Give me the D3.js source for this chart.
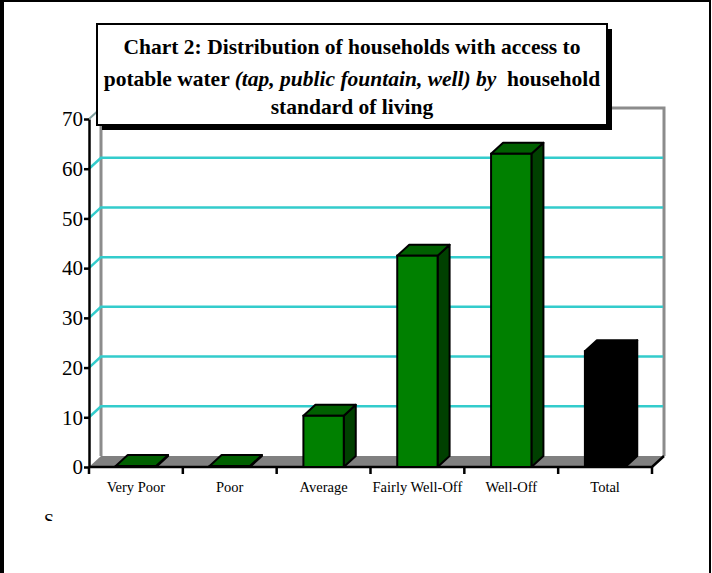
<!DOCTYPE html>
<html>
<head>
<meta charset="utf-8">
<script src="https://cdn.jsdelivr.net/npm/d3@7/dist/d3.min.js"></script>
<style>
  body { margin: 0; background: #fff; }
</style>
</head>
<body>
<div id="chart"></div>
<script>
// data
const categories = ["Very Poor", "Poor", "Average", "Fairly Well-Off", "Well-Off", "Total"];
const values = [0.2, 0.2, 10.3, 42.5, 63, 23.3];
const yTicks = [0, 10, 20, 30, 40, 50, 60, 70];

const width = 712, height = 573;
const depthX = 12, depthY = -11;   // 3d offset of the back wall
const serif = "'Times New Roman', 'Liberation Serif', Tinos, 'DejaVu Serif', serif";

const svg = d3.select("#chart").append("svg")
    .attr("width", width)
    .attr("height", height)
    .attr("font-family", serif);

let x = d3.scaleBand()
    .domain(categories)
    .range([89, 652])
    .paddingInner(0.57)
    .paddingOuter(0.285);

let y = d3.scaleLinear().domain([0, 70]).range([467, 119]);

const left = 89, right = 652, y0 = y(0), yTop = y(70);

// back wall outline (grey)
const wall = svg.append("g");
wall.append("path")
    .attr("d", `M${left + depthX},${y0 + depthY}V${yTop + depthY}H${right + depthX}V${y0 + depthY}`)
    .attr("fill", "none")
    .attr("stroke", "#8c8c8c")
    .attr("stroke-width", 3);
wall.append("line")
    .attr("x1", left).attr("y1", yTop)
    .attr("x2", left + depthX).attr("y2", yTop + depthY)
    .attr("stroke", "#7f9f9f").attr("stroke-width", 2);

// gridlines on side + back wall
svg.append("g").selectAll("path")
    .data(yTicks.filter(d => d > 0 && d < 70))
    .join("path")
    .attr("d", d => `M${left},${y(d)}L${left + depthX},${y(d) + depthY}H${right + depthX - 1}`)
    .attr("fill", "none")
    .attr("stroke", "#33cccc")
    .attr("stroke-width", 2.5);

// floor
svg.append("path")
    .attr("d", `M${left},${y0}L${left + depthX},${y0 + depthY}H${right + depthX}L${right},${y0}Z`)
    .attr("fill", "#808080");
svg.append("path")
    .attr("d", `M${left},${y0}H${right}L${right + depthX},${y0 + depthY}`)
    .attr("fill", "none")
    .attr("stroke", "#000")
    .attr("stroke-width", 2.5);

// bars
const bars = svg.append("g").selectAll("g")
    .data(categories.map((c, i) => ({ cat: c, v: values[i], total: c === "Total" })))
    .join("g");

const bw = x.bandwidth();
bars.append("path") // side
    .attr("d", d => {
        let x1 = x(d.cat) + bw, yt = y(d.v);
        return `M${x1},${y0}L${x1 + depthX},${y0 + depthY}V${yt + depthY}L${x1},${yt}Z`;
    })
    .attr("fill", d => d.total ? "#000" : "#004000")
    .attr("stroke", "#000").attr("stroke-width", 2).attr("stroke-linejoin", "round");
bars.append("path") // top
    .attr("d", d => {
        let x0 = x(d.cat), yt = y(d.v);
        return `M${x0},${yt}L${x0 + depthX},${yt + depthY}H${x0 + bw + depthX}L${x0 + bw},${yt}Z`;
    })
    .attr("fill", d => d.total ? "#000" : "#006000")
    .attr("stroke", "#000").attr("stroke-width", 2).attr("stroke-linejoin", "round");
bars.append("rect") // front
    .attr("x", d => x(d.cat))
    .attr("y", d => y(d.v))
    .attr("width", bw)
    .attr("height", d => y0 - y(d.v))
    .attr("fill", d => d.total ? "#000" : "#008000")
    .attr("stroke", "#000").attr("stroke-width", 2);

// y axis
const yAxis = svg.append("g")
    .attr("transform", `translate(${left},0)`)
    .call(d3.axisLeft(y).tickValues(yTicks).tickSize(5).tickSizeOuter(0).tickPadding(1));
yAxis.attr("font-family", serif).attr("font-size", 21);
yAxis.select(".domain").attr("stroke", "#000").attr("stroke-width", 2.5);
yAxis.selectAll(".tick line").attr("stroke", "#000").attr("stroke-width", 2.5);
yAxis.selectAll(".tick text").attr("fill", "#000");

// x ticks at category boundaries
const step = x.step();
svg.append("g").selectAll("line")
    .data(d3.range(categories.length + 1))
    .join("line")
    .attr("x1", i => left + i * step).attr("x2", i => left + i * step)
    .attr("y1", y0).attr("y2", y0 + 7)
    .attr("stroke", "#000").attr("stroke-width", 2.5);

svg.append("g").selectAll("text")
    .data(categories)
    .join("text")
    .attr("x", d => x(d) + bw / 2)
    .attr("y", y0 + 25)
    .attr("text-anchor", "middle")
    .attr("font-size", 14.5)
    .text(d => d);

// title box with shadow
const box = { x: 97, y: 24, w: 510, h: 101 };
svg.append("rect")
    .attr("x", box.x + 5).attr("y", box.y + 5)
    .attr("width", box.w).attr("height", box.h)
    .attr("fill", "#000");
svg.append("rect")
    .attr("x", box.x).attr("y", box.y)
    .attr("width", box.w).attr("height", box.h)
    .attr("fill", "#fff").attr("stroke", "#000").attr("stroke-width", 2);

const title = svg.append("text")
    .attr("text-anchor", "middle")
    .attr("font-size", 21.5)
    .attr("font-weight", "bold");
const cx = box.x + box.w / 2;
title.append("tspan").attr("x", cx).attr("y", 54)
    .text("Chart 2: Distribution of households with access to");
const l2 = title.append("tspan").attr("x", cx).attr("y", 86);
l2.append("tspan").text("potable water ");
l2.append("tspan").attr("font-style", "italic").text("(tap, public fountain, well) by");
l2.append("tspan").text("\u00a0 household");
title.append("tspan").attr("x", cx).attr("y", 114).text("standard of living");

// clipped source note
svg.append("clipPath").attr("id", "clipS")
    .append("rect").attr("x", 30).attr("y", 500).attr("width", 40).attr("height", 21);
svg.append("text")
    .attr("x", 44).attr("y", 527)
    .attr("clip-path", "url(#clipS)")
    .attr("font-size", 18)
    .text("S");

// outer frame: left (thick), top, right
svg.append("path")
    .attr("d", `M2,${height}V1H${width - 2}V${height}`)
    .attr("fill", "none").attr("stroke", "#000").attr("stroke-width", 2);
svg.append("line")
    .attr("x1", 2).attr("x2", 2).attr("y1", 0).attr("y2", height)
    .attr("stroke", "#000").attr("stroke-width", 4);
</script>
</body>
</html>
